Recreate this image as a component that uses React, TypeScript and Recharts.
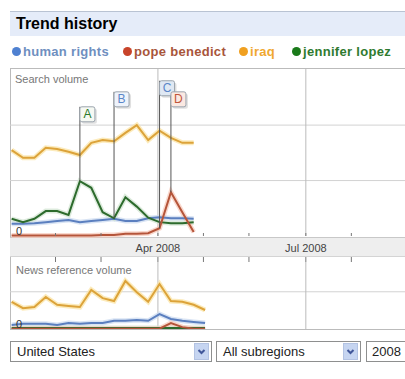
import React from 'react';
import { LineChart, Line, XAxis, YAxis, ReferenceLine, ReferenceDot } from 'recharts';

// week start, as days since 1 Jan 2008
const weeks = [1, 8, 15, 22, 29, 36, 43, 50, 57, 64, 71, 78, 85, 92, 99, 106, 113, 120];

// search volume
const searchHumanRights = [0.22, 0.22, 0.23, 0.25, 0.27, 0.29, 0.25, 0.27, 0.29, 0.31, 0.27, 0.27, 0.32, 0.34, 0.32, 0.32, 0.31];
const searchPopeBenedict = [0.01, 0.01, 0.01, 0.01, 0.01, 0.01, 0.01, 0.01, 0.02, 0.02, 0.04, 0.04, 0.05, 0.14, 0.79, 0.43, 0.07];
const searchIraq = [1.55, 1.41, 1.41, 1.59, 1.57, 1.52, 1.46, 1.68, 1.73, 1.71, 1.86, 2.0, 1.73, 1.9, 1.77, 1.68, 1.68];
const searchJenniferLopez = [0.31, 0.25, 0.31, 0.45, 0.45, 0.38, 0.99, 0.87, 0.43, 0.32, 0.7, 0.53, 0.33, 0.25, 0.23, 0.23, 0.25];

// news reference volume
const newsHumanRights = [0.11, 0.14, 0.14, 0.14, 0.11, 0.16, 0.14, 0.16, 0.16, 0.22, 0.22, 0.24, 0.22, 0.4, 0.27, 0.22, 0.19, 0.16];
const newsPopeBenedict = [0.01, 0.01, 0.01, 0.01, 0.01, 0.01, 0.01, 0.01, 0.01, 0.01, 0.01, 0.01, 0.01, 0.01, 0.16, 0.05, 0.01, 0.01];
const newsIraq = [0.73, 0.56, 0.59, 0.86, 0.65, 0.62, 0.59, 1.05, 0.83, 0.75, 1.29, 0.99, 0.73, 1.21, 0.75, 0.73, 0.65, 0.51];
const newsJenniferLopez = [0.03, 0.03, 0.03, 0.03, 0.03, 0.03, 0.03, 0.03, 0.03, 0.03, 0.03, 0.03, 0.03, 0.03, 0.03, 0.03, 0.03, 0.03];

const seriesKeys = ['hr', 'pb', 'iq', 'jl'];
const seriesNames = ['human rights', 'pope benedict', 'iraq', 'jennifer lopez'];
const lineColors = ['#5b7fbf', '#b5553a', '#dca33a', '#2d6b2d'];
const haloColors = ['#c9d8f0', '#f6c8b8', '#fbe3a0', '#cfe3cf'];
const dotColors = ['#4f81d1', '#c8442a', '#f0a020', '#1a7a1a'];
const nameColors = ['#6f8fbf', '#a8553a', '#f0a830', '#2f7a2f'];
const legendLeft = [12, 123, 239, 292];
const drawOrder = [2, 0, 3, 1];

const axisTicks = [28, 56, 91, 119, 147, 182, 210];
const monthLabels: Record<number, string> = { 91: 'Apr 2008', 182: 'Jul 2008' };
const monthLines = [91, 182];

const flagLetters = ['A', 'B', 'C', 'D'];
const flagWeeks = [43, 64, 92, 99];
const flagSeries = ['jl', 'jl', 'pb', 'pb'];
const flagTops = [2.33, 2.6, 2.8, 2.6];
const flagText = ['#2a7a2a', '#5a86c8', '#5a86c8', '#c0553a'];
const flagFill = ['#f6f9f3', '#eef3fb', '#dfe8f3', '#fbe9e2'];

const searchRows = weeks.map((day, i) => ({
  day,
  hr: searchHumanRights[i] ?? null,
  pb: searchPopeBenedict[i] ?? null,
  iq: searchIraq[i] ?? null,
  jl: searchJenniferLopez[i] ?? null,
}));

const newsRows = weeks.map((day, i) => ({
  day,
  hr: newsHumanRights[i],
  pb: newsPopeBenedict[i],
  iq: newsIraq[i],
  jl: newsJenniferLopez[i],
}));

const FONT = 'Arial, "Liberation Sans", sans-serif';

function DateTick({ x, y, payload }: any) {
  const label = monthLabels[payload.value];
  return (
    <g>
      <line x1={x} x2={x} y1={y - 3} y2={y} stroke="#777" />
      <line x1={x} x2={x} y1={y + 21} y2={y + 26} stroke="#777" />
      {label && (
        <text x={x} y={y + 16} textAnchor="middle" fontSize={11} fill="#444" fontFamily={FONT}>
          {label}
        </text>
      )}
    </g>
  );
}

function ZeroLabel({ viewBox }: any) {
  return (
    <text x={viewBox.x + 6} y={viewBox.y - 1} fontSize={11} fill="#333" fontFamily={FONT}>
      0
    </text>
  );
}

function FlagBox(letter: string, i: number) {
  return ({ cx, cy }: any) => (
    <g>
      <rect x={cx + 2} y={cy + 2} width={15} height={15} rx={2} fill="#000" opacity={0.12} />
      <rect x={cx} y={cy} width={15} height={15} rx={2} fill={flagFill[i]} stroke="#9aa3ad" />
      <text x={cx + 7.5} y={cy + 11.5} textAnchor="middle" fontSize={12} fill={flagText[i]} fontFamily={FONT}>
        {letter}
      </text>
    </g>
  );
}

function seriesLines() {
  const out: React.ReactNode[] = [];
  drawOrder.forEach(i => {
    out.push(
      <Line key={'h' + i} dataKey={seriesKeys[i]} stroke={haloColors[i]} strokeWidth={5} strokeOpacity={0.7}
        dot={false} activeDot={false} isAnimationActive={false} connectNulls={false} />
    );
  });
  drawOrder.forEach(i => {
    out.push(
      <Line key={'l' + i} dataKey={seriesKeys[i]} stroke={lineColors[i]} strokeWidth={2}
        dot={false} activeDot={false} isAnimationActive={false} connectNulls={false} />
    );
  });
  return out;
}

function Select({ left, width, label }: { left: number; width: number; label: string }) {
  return (
    <div
      style={{
        position: 'absolute', left, top: 341, width, height: 21,
        border: '1px solid #8e8f8f', boxSizing: 'border-box', background: '#fff',
        font: `13px ${FONT}`, color: '#222', lineHeight: '19px', paddingLeft: 6,
      }}
    >
      {label}
      <div
        style={{
          position: 'absolute', right: 2, top: 1, width: 15, height: 17,
          background: '#c6d5f1', border: '1px solid #b3c3e3', boxSizing: 'border-box',
        }}
      >
        <svg width={13} height={15} style={{ display: 'block' }}>
          <polyline points="3.5,6 6.5,9 9.5,6" stroke="#41579a" strokeWidth={2} fill="none" />
        </svg>
      </div>
    </div>
  );
}

export default function App() {
  return (
    <div style={{ position: 'absolute', left: 0, top: 0, width: 405, height: 379, overflow: 'hidden', background: '#fff', fontFamily: FONT }}>
      {/* header */}
      <div
        style={{
          position: 'absolute', left: 10, top: 11, width: 395, height: 25,
          background: '#e5ecf9', borderTop: '1px solid #b9c3d3', boxSizing: 'border-box',
          font: `bold 16px ${FONT}`, color: '#000', lineHeight: '23px', paddingLeft: 6,
        }}
      >
        Trend history
      </div>

      {/* legend */}
      {seriesNames.map((name, i) => (
        <div key={name} style={{ position: 'absolute', left: legendLeft[i], top: 43, height: 16, display: 'flex', alignItems: 'center', whiteSpace: 'nowrap' }}>
          <span style={{ width: 9, height: 9, borderRadius: '50%', background: dotColors[i], display: 'inline-block', marginRight: 2 }} />
          <span style={{ font: `bold 13px ${FONT}`, color: nameColors[i], letterSpacing: 0.3 }}>{name}</span>
        </div>
      ))}

      {/* frames */}
      <div style={{ position: 'absolute', left: 10, top: 68, width: 395, height: 169, borderTop: '1px solid #bbb', borderLeft: '1px solid #bbb', boxSizing: 'border-box' }} />
      <div style={{ position: 'absolute', left: 10, top: 237, width: 395, height: 20, background: '#eeeeee', borderTop: '1px solid #c8c8c8', borderBottom: '1px solid #d4d4d4', boxSizing: 'border-box' }} />
      <div style={{ position: 'absolute', left: 10, top: 257, width: 395, height: 73, borderLeft: '1px solid #bbb', borderBottom: '1px solid #bbb', boxSizing: 'border-box' }} />

      <div style={{ position: 'absolute', left: 15, top: 73, font: `11px ${FONT}`, color: '#777' }}>Search volume</div>
      <div style={{ position: 'absolute', left: 16, top: 264, font: `11px ${FONT}`, color: '#777' }}>News reference volume</div>

      {/* search volume */}
      <div style={{ position: 'absolute', left: 10, top: 68 }}>
        <LineChart width={395} height={194} data={searchRows} margin={{ top: 0, right: 0, bottom: 0, left: 0 }}>
          <XAxis
            type="number" dataKey="day" domain={[0, 243]} ticks={axisTicks} interval={0}
            height={26} axisLine={false} tickLine={false} tickSize={0} tickMargin={0}
            tick={<DateTick />}
          />
          <YAxis type="number" domain={[0, 3.03]} hide />
          {[1, 2].map(v => <ReferenceLine key={'g' + v} y={v} stroke="#d2d2d2" />)}
          {monthLines.map(v => <ReferenceLine key={'m' + v} x={v} stroke="#bbb" />)}
          {seriesLines()}
          <ReferenceLine y={0} stroke="none" label={<ZeroLabel />} />
          {flagLetters.map((letter, i) => {
            const idx = weeks.indexOf(flagWeeks[i]);
            const row: any = searchRows[idx];
            return (
              <ReferenceLine
                key={'fl' + letter}
                segment={[{ x: flagWeeks[i], y: row[flagSeries[i]] }, { x: flagWeeks[i], y: flagTops[i] }]}
                stroke="#555"
              />
            );
          })}
          {flagLetters.map((letter, i) => (
            <ReferenceDot key={'fb' + letter} x={flagWeeks[i]} y={flagTops[i]} r={0} shape={FlagBox(letter, i)} />
          ))}
        </LineChart>
      </div>

      {/* news reference volume */}
      <div style={{ position: 'absolute', left: 10, top: 262 }}>
        <LineChart width={395} height={67} data={newsRows} margin={{ top: 0, right: 0, bottom: 0, left: 0 }}>
          <XAxis type="number" dataKey="day" domain={[0, 243]} hide />
          <YAxis type="number" domain={[0, 1.8]} hide />
          <ReferenceLine y={1} stroke="#d2d2d2" />
          {monthLines.map(v => <ReferenceLine key={'n' + v} x={v} stroke="#bbb" />)}
          {seriesLines()}
          <ReferenceLine y={0} stroke="none" label={<ZeroLabel />} />
        </LineChart>
      </div>

      {/* selectors */}
      <Select left={10} width={202} label="United States" />
      <Select left={216} width={145} label="All subregions" />
      <div
        style={{
          position: 'absolute', left: 366, top: 341, width: 50, height: 21,
          border: '1px solid #8e8f8f', boxSizing: 'border-box', background: '#fff',
          font: `13px ${FONT}`, color: '#222', lineHeight: '19px', paddingLeft: 5,
        }}
      >
        2008
      </div>
    </div>
  );
}
